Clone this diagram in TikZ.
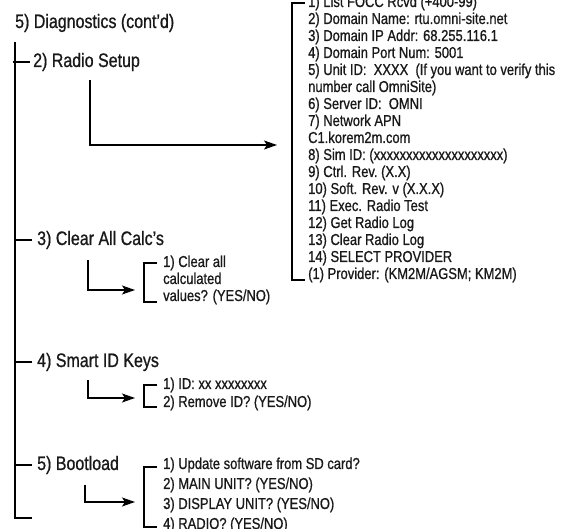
\documentclass[tikz,border=0pt]{standalone}
\usepackage{fontspec}
\setmainfont{Liberation Sans}[FakeStretch=0.82, FakeBold=0.8]
\usepackage{tikz}
\usetikzlibrary{arrows.meta, positioning, calc}

\begin{document}
\begin{tikzpicture}[x=1pt, y=-1pt,
    head/.style={anchor=west, inner sep=0pt, text height=13pt, text depth=3pt, text=black!90, font=\fontsize{19.5}{21}\selectfont},
    item/.style={anchor=west, inner sep=0pt, text height=11pt, text depth=3pt, text=black!90, font=\fontsize{15.8}{17}\selectfont},
    wire/.style={line width=1.4pt},
    arr/.style={line width=1.4pt, -{Stealth[length=13pt, width=9pt, inset=3pt]}},
]
    \useasboundingbox[fill=white] (0,0) rectangle (579,529);

    \node[head] (diag) at (15,23) {5) Diagnostics (cont'd)};
    \node[head] (radio) at (33,62) {2) Radio Setup};
    \node[head] (clear) at (37,240) {3) Clear All Calc's};
    \node[head] (smart) at (37,362) {4) Smart ID Keys};
    \node[head] (boot) at (37,465) {5) Bootload};

    \coordinate (top) at (15,42);
    \coordinate (bot) at (15,518);
    \draw[wire] (top) -- (bot) -- ++(17,0);
    \draw[wire] ([xshift=-2pt]top |- radio.west) -- ([xshift=-3pt]radio.west);
    \foreach \n in {clear, smart, boot}
        \draw[wire] (top |- \n.west) -- ([xshift=-5pt]\n.west);

    \foreach \t [count=\i] in {
        {1) List FOCC Rcvd (+400-99)},
        {2) Domain Name: rtu.omni-site.net},
        {3) Domain IP Addr: 68.255.116.1},
        {4) Domain Port Num: 5001},
        {5) Unit ID:\ \ XXXX\ \ (If you want to verify this},
        {number call OmniSite)},
        {6) Server\ ID:\ \ OMNI},
        {7) Network APN},
        {C1.korem2m.com},
        {8) Sim ID:\ (xxxxxxxxxxxxxxxxxxxx)},
        {9) Ctrl. Rev.\ (X.X)},
        {10) Soft. Rev. v (X.X.X)},
        {11) Exec. Radio Test},
        {12) Get Radio Log},
        {13) Clear Radio Log},
        {14) SELECT PROVIDER},
        {(1) Provider: (KM2M/AGSM; KM2M)}}
        \node[item] (r\i) at (308,{3+17*(\i-1)}) {\t};
    \draw[wire] ([xshift=-3pt]r1.west) -- ++(-13,0) |- ([xshift=-3pt,yshift=-5pt]r17.west);
    \coordinate (rs) at (90,80);
    \coordinate (rt) at (277,145);
    \draw[arr] (rs) |- (rt);

    \foreach \t [count=\i] in {{1) Clear all}, {calculated}, {values? (YES/NO)}}
        \node[item] (c\i) at (163,{263+17*(\i-1)}) {\t};
    \draw[wire] ([xshift=-6pt]c1.west) -- ++(-13,0) |- ([xshift=-6pt,yshift=-5pt]c3.west);
    \coordinate (cs) at (88,260);
    \coordinate (ct) at (135,290);
    \draw[arr] (cs) |- (ct);

    \foreach \t [count=\i] in {{1) ID: xx xxxxxxxx}, {2) Remove ID? (YES/NO)}}
        \node[item] (s\i) at (163,{385+18*(\i-1)}) {\t};
    \draw[wire] ([xshift=-6pt]s1.west) -- ++(-13,0) |- ([xshift=-6pt,yshift=-4pt]s2.west);
    \coordinate (ss) at (88,380);
    \coordinate (st) at (135,398);
    \draw[arr] (ss) |- (st);

    \foreach \t [count=\i] in {{1) Update software from SD card?}, {2) MAIN UNIT? (YES/NO)},
        {3) DISPLAY UNIT? (YES/NO)}, {4) RADIO? (YES/NO)}}
        \node[item] (b\i) at (163,{465+20*(\i-1)}) {\t};
    \draw[wire] ([xshift=-6pt,yshift=-2pt]b1.west) -- ++(-13,0) |- ([xshift=-6pt,yshift=-2pt]b4.west);
    \coordinate (bs) at (85,485);
    \coordinate (bt) at (135,502);
    \draw[arr] (bs) |- (bt);
\end{tikzpicture}
\end{document}
